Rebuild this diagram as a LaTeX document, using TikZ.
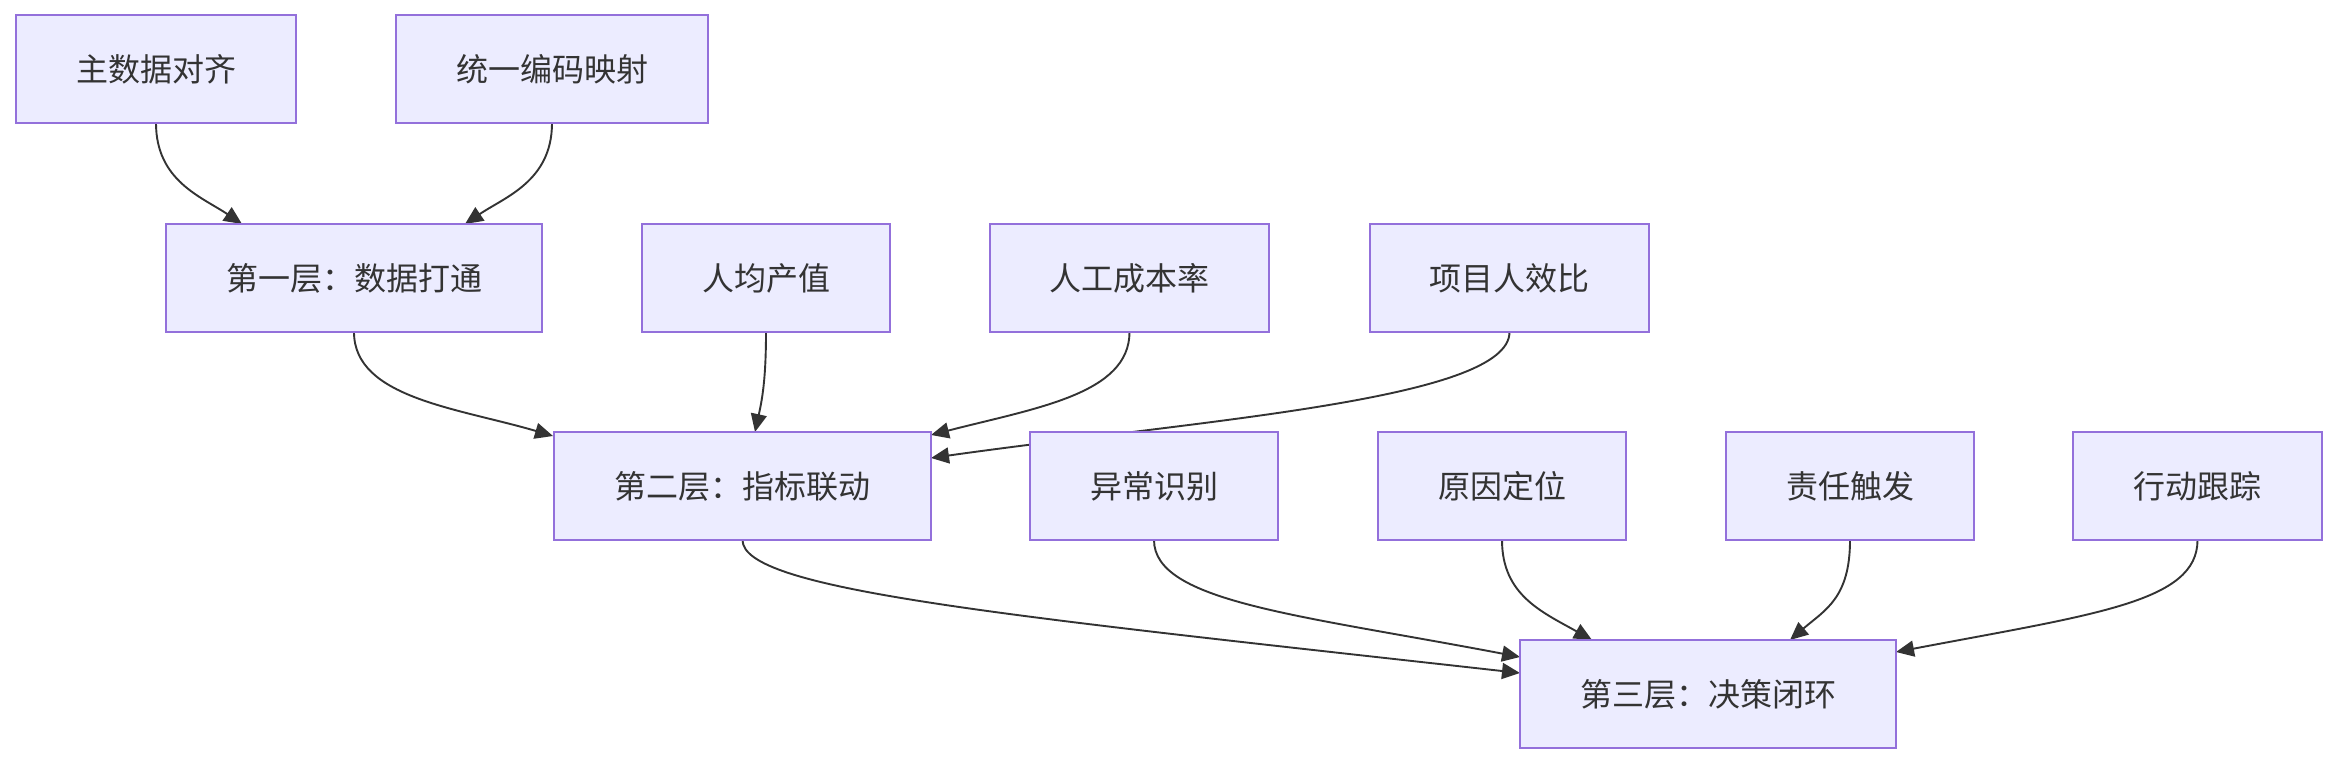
\documentclass[tikz,border=0pt]{standalone}
\usepackage{fontspec}
\setmainfont{Noto Sans CJK SC}
\usetikzlibrary{arrows.meta,calc}
\definecolor{boxfill}{HTML}{ECECFF}
\definecolor{boxline}{HTML}{9370DB}
\definecolor{txt}{HTML}{333333}
\definecolor{edge}{HTML}{333333}
\pgfdeclarelayer{background}
\pgfsetlayers{background,main}
\tikzset{
  box/.style={draw=boxline, fill=boxfill, line width=0.9pt, minimum height=54pt,
    inner sep=0pt, outer sep=0pt, text=txt, font=\fontsize{16pt}{19pt}\selectfont},
  conn/.style={draw=edge, line width=0.95pt, -{Triangle[length=9pt,width=8pt]}},
}
\begin{document}
\begin{tikzpicture}[x=0.5pt,y=-0.5pt]
\useasboundingbox (0,0) rectangle (2338,764);
% row 1
\node[box, minimum width=140pt] (A) at (156,69) {主数据对齐};
\node[box, minimum width=156pt] (B) at (552,69) {统一编码映射};
% row 2
\node[box, minimum width=188pt] (L1) at (354,278) {第一层：数据打通};
\node[box, minimum width=124pt] (C) at (766,278) {人均产值};
\node[box, minimum width=139.5pt] (D) at (1129.5,278) {人工成本率};
\node[box, minimum width=139.5pt] (E) at (1509.5,278) {项目人效比};
% row 3
\node[box, minimum width=188.5pt] (L2) at (742.5,486) {第二层：指标联动};
\node[box, minimum width=124pt] (F) at (1154,486) {异常识别};
\node[box, minimum width=124pt] (G) at (1502,486) {原因定位};
\node[box, minimum width=124pt] (H) at (1850,486) {责任触发};
\node[box, minimum width=124.5pt] (I) at (2197.5,486) {行动跟踪};
% row 4
\node[box, minimum width=188pt] (L3) at (1708,694) {第三层：决策闭环};
\begin{pgfonlayer}{background}
\draw[conn] (A.south) .. controls +(0,58) and +(-40,-27) .. ($(L1.north)+(-112,0)$);
\draw[conn] (B.south) .. controls +(0,58) and +(40,-27) .. ($(L1.north)+(111,0)$);
\draw[conn] (L1.south) .. controls +(0,66) and +(-95,-28) .. ($(L2.north west)+(-1,4)$);
\draw[conn] (C.south) .. controls +(0,48) and +(7,-32) .. ($(L2.north)+(12.5,0)$);
\draw[conn] (D.south) .. controls +(0,62) and +(105,-27) .. ($(L2.north east)+(0,3)$);
\draw[conn] (E.south) .. controls +(0,68) and +(269,-38) .. ($(L2.north east)+(0,26)$);
\draw[conn] (L2.south) .. controls +(0,50) and +(-520,-58) .. ($(L3.north west)+(0,33)$);
\draw[conn] (F.south) .. controls +(0,62) and +(-220,-42) .. ($(L3.north west)+(0,17)$);
\draw[conn] (G.south) .. controls +(0,55) and +(-50,-28) .. ($(L3.north)+(-116,0)$);
\draw[conn] (H.south) .. controls +(0,58) and +(35,-30) .. ($(L3.north)+(82,0)$);
\draw[conn] (I.south) .. controls +(0,62) and +(200,-38) .. ($(L3.north east)+(0,12)$);
\end{pgfonlayer}
\end{tikzpicture}
\end{document}
